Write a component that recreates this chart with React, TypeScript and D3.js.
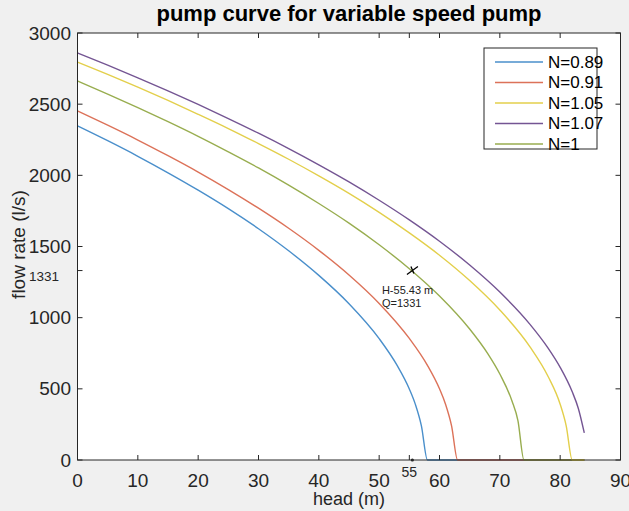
import React from "react";
import * as d3 from "d3";

const W = 629;
const H = 511;

// head (m) vs flow rate (l/s) for each speed ratio
const headN089 = [0, 5, 10, 15, 20, 25, 30, 35, 40, 45, 50, 53, 55, 56, 57, 58, 84];
const flowN089 = [2347, 2243, 2134, 2018, 1896, 1766, 1625, 1470, 1297, 1098, 853, 663, 499, 391, 240, 0, 0];

const headN091 = [0, 5, 10, 15, 20, 25, 30, 35, 40, 45, 50, 55, 58, 60, 61, 62, 63, 84];
const flowN091 = [2452, 2352, 2248, 2138, 2023, 1900, 1769, 1628, 1473, 1300, 1100, 854, 665, 500, 392, 240, 0, 0];

const headN100 = [0, 5, 10, 15, 20, 25, 30, 35, 40, 45, 50, 55, 60, 65, 68, 70, 72, 73, 74, 84];
const flowN100 = [2663, 2571, 2476, 2377, 2274, 2165, 2052, 1931, 1802, 1664, 1512, 1344, 1152, 920, 747, 604, 416, 277, 0, 0];

const headN105 = [0, 5, 10, 15, 20, 25, 30, 35, 40, 45, 50, 55, 60, 65, 70, 75, 78, 80, 81, 82, 84];
const flowN105 = [2796, 2709, 2619, 2526, 2429, 2329, 2223, 2113, 1996, 1873, 1740, 1596, 1439, 1261, 1054, 795, 587, 392, 240, 0, 0];

const headN107 = [0, 5, 10, 15, 20, 25, 30, 35, 40, 45, 50, 55, 60, 65, 70, 75, 78, 80, 82, 83, 84];
const flowN107 = [2860, 2774, 2685, 2593, 2498, 2399, 2296, 2188, 2074, 1954, 1825, 1687, 1537, 1370, 1180, 953, 786, 651, 479, 364, 190];

const xTicks = [0, 10, 20, 30, 40, 50, 60, 70, 80, 90];
const yTicks = [0, 500, 1000, 1500, 2000, 2500, 3000];
const markHead = 55.43;
const markFlow = 1331;

const series = [
  { label: "N=0.89", head: headN089, flow: flowN089, color: "#4a8fcb" },
  { label: "N=0.91", head: headN091, flow: flowN091, color: "#dc7259" },
  { label: "N=1", head: headN100, flow: flowN100, color: "#98ad4f" },
  { label: "N=1.05", head: headN105, flow: flowN105, color: "#e3cf4b" },
  { label: "N=1.07", head: headN107, flow: flowN107, color: "#745593" },
];
const legendOrder = ["N=0.89", "N=0.91", "N=1.05", "N=1.07", "N=1"];

const left = 77.5, right = 620.5, top = 33, bottom = 460;
const font = "'Liberation Sans', Arial, Helvetica, sans-serif";
const ink = "#262626";

export default function App() {
  const x = d3.scaleLinear().domain([0, 90]).range([left, right]);
  const y = d3.scaleLinear().domain([0, 3000]).range([bottom, top]);
  const line = d3
    .line<[number, number]>()
    .x((d) => x(d[0]))
    .y((d) => y(d[1]))
    .curve(d3.curveMonotoneX);

  const mx = x(markHead);
  const my = y(markFlow);

  return (
    <svg
      width={W}
      height={H}
      style={{ position: "absolute", left: 0, top: 0, display: "block" }}
      fontFamily={font}
    >
      <rect width={W} height={H} fill="#f0f0f0" />
      <rect x={left} y={top} width={right - left} height={bottom - top} fill="#fff" />

      {series.map((s) => (
        <path
          key={s.label}
          d={line(s.head.map((h, i) => [h, s.flow[i]] as [number, number])) || ""}
          fill="none"
          stroke={s.color}
          strokeWidth={1.4}
        />
      ))}

      {/* axes box + inward ticks */}
      <rect x={left} y={top} width={right - left} height={bottom - top} fill="none" stroke={ink} strokeWidth={1} />
      {xTicks.concat([55]).map((t) => (
        <g key={"xt" + t}>
          <line x1={x(t)} x2={x(t)} y1={bottom} y2={bottom - 5} stroke={ink} />
          <line x1={x(t)} x2={x(t)} y1={top} y2={top + 5} stroke={ink} />
        </g>
      ))}
      {yTicks.concat([markFlow]).map((t) => (
        <g key={"yt" + t}>
          <line x1={left} x2={left + 5} y1={y(t)} y2={y(t)} stroke={ink} />
          <line x1={right} x2={right - 5} y1={y(t)} y2={y(t)} stroke={ink} />
        </g>
      ))}
      <circle cx={x(55.5)} cy={bottom} r={1.6} fill={ink} />

      {xTicks.map((t) => (
        <text key={"xl" + t} x={x(t)} y={487} textAnchor="middle" fontSize={19} fill={ink}>
          {t}
        </text>
      ))}
      <text x={x(55)} y={477} textAnchor="middle" fontSize={14} fill={ink}>
        55
      </text>
      {yTicks.map((t) => (
        <text key={"yl" + t} x={71} y={y(t)} dy="0.35em" textAnchor="end" fontSize={19} fill={ink}>
          {t}
        </text>
      ))}
      <text x={59} y={y(markFlow) + 6} dy="0.35em" textAnchor="end" fontSize={13.5} fill={ink}>
        {markFlow}
      </text>

      <text x={(left + right) / 2} y={21} textAnchor="middle" fontSize={22} fontWeight="bold" fill="#000">
        pump curve for variable speed pump
      </text>
      <text x={(left + right) / 2} y={505} textAnchor="middle" fontSize={18} fill={ink}>
        head (m)
      </text>
      <text
        transform={`translate(25,${(top + bottom) / 2 - 2}) rotate(-90)`}
        textAnchor="middle"
        fontSize={19}
        fill={ink}
      >
        flow rate (l/s)
      </text>

      {/* data cursor */}
      <path
        d={`M${mx - 5},${my + 4}L${mx + 6},${my - 4}M${mx - 1},${my - 4}L${mx + 2},${my + 3}`}
        stroke="#000"
        strokeWidth={1.3}
        fill="none"
      />
      <text x={mx - 30} y={my + 23} fontSize={11} fill="#222">
        H-55.43 m
      </text>
      <text x={mx - 30} y={my + 36} fontSize={11} fill="#222">
        Q=1331
      </text>

      {/* legend */}
      <rect x={484} y={48} width={113} height={101} fill="#fff" stroke={ink} strokeWidth={1} />
      {legendOrder.map((lab, i) => {
        const s = series.find((d) => d.label === lab)!;
        const ly = 62 + i * 20.5;
        return (
          <g key={"lg" + lab}>
            <line x1={495} x2={543} y1={ly} y2={ly} stroke={s.color} strokeWidth={1.4} />
            <text x={548} y={ly} dy="0.35em" fontSize={17} fill="#000">
              {lab}
            </text>
          </g>
        );
      })}
    </svg>
  );
}
